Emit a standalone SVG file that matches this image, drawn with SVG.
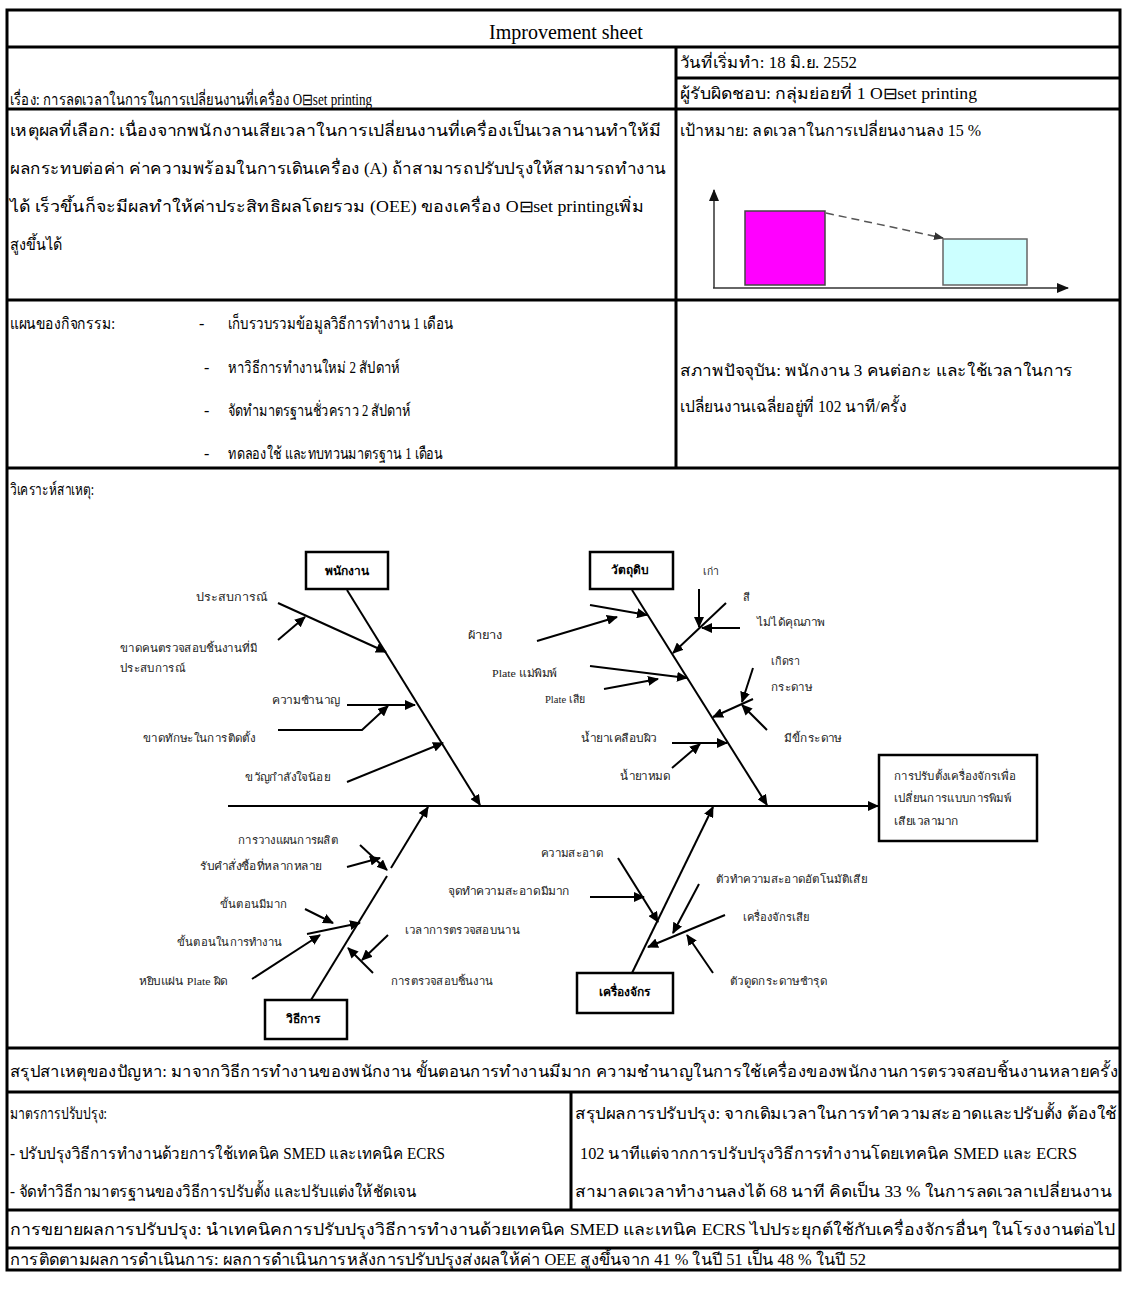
<svg xmlns="http://www.w3.org/2000/svg" width="1123" height="1298" viewBox="0 0 1123 1298">
<defs>
<style>
.t{font-family:"Liberation Serif",serif;font-size:16px;fill:#000;dominant-baseline:central}
.tc{font-family:"Liberation Serif",serif;font-size:20px;fill:#000;dominant-baseline:central;text-anchor:middle}
.f{font-family:"Liberation Sans",sans-serif;font-size:11px;fill:#222;dominant-baseline:central}
.fs{font-family:"Liberation Serif",serif;font-size:11px;fill:#222;dominant-baseline:central}
.hd{font-family:"Liberation Sans",sans-serif;font-size:12px;font-weight:bold;fill:#000;dominant-baseline:central;text-anchor:middle}
.grid{stroke:#000;stroke-width:3;fill:none}
.bone{stroke:#000;stroke-width:2;fill:none;marker-end:url(#ah)}
.plain{stroke:#000;stroke-width:2;fill:none}
.box{fill:#fff;stroke:#000;stroke-width:2.5}
.axis{stroke:#333;stroke-width:1.5;fill:none;marker-end:url(#ah2)}
</style>
<marker id="ah" markerUnits="userSpaceOnUse" markerWidth="11" markerHeight="10" refX="10" refY="5" orient="auto"><path d="M0,0 L11,5 L0,10 z" fill="#000"/></marker>
<marker id="ah2" markerUnits="userSpaceOnUse" markerWidth="12" markerHeight="10" refX="11" refY="5" orient="auto"><path d="M0,0 L12,5 L0,10 z" fill="#111"/></marker>
<marker id="ah3" markerUnits="userSpaceOnUse" markerWidth="10" markerHeight="8" refX="9" refY="4" orient="auto"><path d="M0,0 L10,4 L0,8 z" fill="#333"/></marker>
</defs>
<rect width="1123" height="1298" fill="#fff"/>

<!-- sheet grid -->
<g id="grid">
<rect class="grid" x="7" y="10" width="1113" height="1260"/>
<path class="grid" d="M7 47H1120M7 109H1120M7 300H1120M7 468H1120M7 1048H1120M7 1092H1120M7 1210H1120M7 1248H1120M676 47V468M676 78H1120M571 1092V1210"/>
</g>

<!-- header cells -->
<g id="title"><text class="tc" x="566" y="32">Improvement sheet</text></g>
<g id="subject"><text class="t" x="10" y="99" textLength="362" lengthAdjust="spacingAndGlyphs">เรื่อง: การลดเวลาในการในการเปลี่ยนงานที่เครื่อง O⊟set printing</text></g>
<g id="start-date"><text class="t" x="680" y="62" textLength="177" lengthAdjust="spacingAndGlyphs">วันที่เริ่มทำ: 18 มิ.ย. 2552</text></g>
<g id="owner"><text class="t" x="680" y="93" textLength="297" lengthAdjust="spacingAndGlyphs">ผู้รับผิดชอบ: กลุ่มย่อยที่ 1 O⊟set printing</text></g>

<g id="reason">
<text class="t" x="10" y="130" textLength="651" lengthAdjust="spacingAndGlyphs">เหตุผลที่เลือก: เนื่องจากพนักงานเสียเวลาในการเปลี่ยนงานที่เครื่องเป็นเวลานานทำให้มี</text>
<text class="t" x="10" y="168" textLength="656" lengthAdjust="spacingAndGlyphs">ผลกระทบต่อค่า ค่าความพร้อมในการเดินเครื่อง (A) ถ้าสามารถปรับปรุงให้สามารถทำงาน</text>
<text class="t" x="10" y="206" textLength="634" lengthAdjust="spacingAndGlyphs">ได้ เร็วขึ้นก็จะมีผลทำให้ค่าประสิทธิผลโดยรวม (OEE) ของเครื่อง O⊟set  printingเพิ่ม</text>
<text class="t" x="10" y="244" textLength="52" lengthAdjust="spacingAndGlyphs">สูงขึ้นได้</text>
</g>

<g id="target">
<text class="t" x="680" y="130" textLength="301" lengthAdjust="spacingAndGlyphs">เป้าหมาย: ลดเวลาในการเปลี่ยนงานลง 15 %</text>
<path class="axis" d="M714 288V190"/>
<path class="axis" d="M713 288H1068"/>
<rect x="745" y="211" width="80" height="74" fill="#ff00ff" stroke="#444" stroke-width="1.5"/>
<rect x="943" y="239" width="84" height="46" fill="#ccffff" stroke="#666" stroke-width="1.5"/>
<path d="M826 213L943 238" stroke="#555" stroke-width="1.5" stroke-dasharray="8 5" fill="none" marker-end="url(#ah3)"/>
</g>

<g id="plan">
<text class="t" x="10" y="323" textLength="105" lengthAdjust="spacingAndGlyphs">แผนของกิจกรรม:</text>
<text class="t" x="199" y="323">-</text>
<text class="t" x="228" y="323" textLength="225" lengthAdjust="spacingAndGlyphs">เก็บรวบรวมข้อมูลวิธีการทำงาน 1 เดือน</text>
<text class="t" x="204" y="367">-</text>
<text class="t" x="228" y="367" textLength="172" lengthAdjust="spacingAndGlyphs">หาวิธีการทำงานใหม่ 2 สัปดาห์</text>
<text class="t" x="204" y="410">-</text>
<text class="t" x="228" y="410" textLength="183" lengthAdjust="spacingAndGlyphs">จัดทำมาตรฐานชั่วคราว 2 สัปดาห์</text>
<text class="t" x="204" y="453">-</text>
<text class="t" x="228" y="453" textLength="215" lengthAdjust="spacingAndGlyphs">ทดลองใช้ และทบทวนมาตรฐาน 1 เดือน</text>
</g>

<g id="current">
<text class="t" x="680" y="370" textLength="393" lengthAdjust="spacingAndGlyphs">สภาพปัจจุบัน:  พนักงาน 3 คนต่อกะ และใช้เวลาในการ</text>
<text class="t" x="680" y="406" textLength="227" lengthAdjust="spacingAndGlyphs">เปลี่ยนงานเฉลี่ยอยู่ที่  102 นาที/ครั้ง</text>
</g>

<g id="analysis-label"><text class="t" x="10" y="489" textLength="84" lengthAdjust="spacingAndGlyphs">วิเคราะห์สาเหตุ:</text></g>

<!-- cause and effect connectors -->
<g id="connectors">
<path class="bone" d="M228 806H878"/>
<path class="bone" d="M347 590L480 805"/>
<path class="bone" d="M278 603L386 652"/>
<path class="bone" d="M278 640L305 617"/>
<path class="bone" d="M347 705H415"/>
<path class="bone" d="M278 730H362L388 706"/>
<path class="bone" d="M347 782L443 743"/>
<path class="bone" d="M632 590L767 805"/>
<path class="bone" d="M590 605L647 615"/>
<path class="bone" d="M537 641L617 617"/>
<path class="bone" d="M590 666L687 678"/>
<path class="bone" d="M604 689L658 679"/>
<path class="bone" d="M672 743H727"/>
<path class="bone" d="M672 768L700 744"/>
<path class="bone" d="M699 589V627"/>
<path class="bone" d="M726 603L673 653"/>
<path class="bone" d="M740 628H702"/>
<path class="bone" d="M753 668L742 702"/>
<path class="bone" d="M753 699L713 717"/>
<path class="bone" d="M767 730L742 705"/>
<path class="plain" d="M311 1000L387 876"/>
<path class="bone" d="M391 868L428 807"/>
<path class="bone" d="M360 845L387 870"/>
<path class="bone" d="M347 867L380 858"/>
<path class="bone" d="M305 909L333 923"/>
<path class="bone" d="M307 934L360 923"/>
<path class="bone" d="M252 979L320 935"/>
<path class="bone" d="M388 935L362 960"/>
<path class="bone" d="M373 973L348 948"/>
<path class="bone" d="M632 973L713 807"/>
<path class="bone" d="M618 858L658 922"/>
<path class="bone" d="M590 897H644"/>
<path class="bone" d="M699 884L673 933"/>
<path class="bone" d="M725 915L648 947"/>
<path class="bone" d="M713 973L687 935"/>
</g>

<g id="staff">
<rect class="box" x="306" y="552" width="82" height="37"/>
<text class="hd" x="347" y="571">พนักงาน</text>
<text class="f" x="196" y="597" textLength="71" lengthAdjust="spacingAndGlyphs">ประสบการณ์</text>
<text class="f" x="120" y="648" textLength="137" lengthAdjust="spacingAndGlyphs">ขาดคนตรวจสอบชิ้นงานที่มี</text>
<text class="f" x="120" y="668" textLength="65" lengthAdjust="spacingAndGlyphs">ประสบการณ์</text>
<text class="f" x="272" y="700" textLength="68" lengthAdjust="spacingAndGlyphs">ความชำนาญ</text>
<text class="f" x="143" y="738" textLength="112" lengthAdjust="spacingAndGlyphs">ขาดทักษะในการติดตั้ง</text>
<text class="f" x="245" y="777" textLength="85" lengthAdjust="spacingAndGlyphs">ขวัญกำลังใจน้อย</text>
</g>

<g id="material">
<rect class="box" x="590" y="552" width="83" height="37"/>
<text class="hd" x="630" y="570">วัตถุดิบ</text>
<text class="f" x="468" y="635" textLength="34" lengthAdjust="spacingAndGlyphs">ผ้ายาง</text>
<text class="fs" x="492" y="673" textLength="65" lengthAdjust="spacingAndGlyphs">Plate แม่พิมพ์</text>
<text class="fs" x="545" y="699" textLength="40" lengthAdjust="spacingAndGlyphs">Plate เสีย</text>
<text class="f" x="581" y="738" textLength="76" lengthAdjust="spacingAndGlyphs">น้ำยาเคลือบผิว</text>
<text class="f" x="620" y="776" textLength="50" lengthAdjust="spacingAndGlyphs">น้ำยาหมด</text>
<text class="f" x="703" y="571" textLength="16" lengthAdjust="spacingAndGlyphs">เก่า</text>
<text class="f" x="743" y="597">สี</text>
<text class="f" x="757" y="622" textLength="68" lengthAdjust="spacingAndGlyphs">ไม่ได้คุณภาพ</text>
<text class="f" x="771" y="661" textLength="29" lengthAdjust="spacingAndGlyphs">เกิดรา</text>
<text class="f" x="771" y="687" textLength="41" lengthAdjust="spacingAndGlyphs">กระดาษ</text>
<text class="f" x="784" y="738" textLength="58" lengthAdjust="spacingAndGlyphs">มีขี้กระดาษ</text>
</g>

<g id="method">
<rect class="box" x="265" y="1000" width="82" height="39"/>
<text class="hd" x="303" y="1019">วิธีการ</text>
<text class="f" x="238" y="840" textLength="100" lengthAdjust="spacingAndGlyphs">การวางแผนการผลิต</text>
<text class="f" x="200" y="866" textLength="122" lengthAdjust="spacingAndGlyphs">รับคำสั่งซื้อที่หลากหลาย</text>
<text class="f" x="220" y="904" textLength="67" lengthAdjust="spacingAndGlyphs">ขั้นตอนมีมาก</text>
<text class="f" x="177" y="942" textLength="105" lengthAdjust="spacingAndGlyphs">ขั้นตอนในการทำงาน</text>
<text class="f" x="139" y="981" textLength="89" lengthAdjust="spacingAndGlyphs">หยิบแผ่น <tspan font-family="Liberation Serif, serif">Plate</tspan> ผิด</text>
<text class="f" x="405" y="930" textLength="115" lengthAdjust="spacingAndGlyphs">เวลาการตรวจสอบนาน</text>
<text class="f" x="391" y="981" textLength="102" lengthAdjust="spacingAndGlyphs">การตรวจสอบชิ้นงาน</text>
</g>

<g id="machine">
<rect class="box" x="577" y="973" width="96" height="40"/>
<text class="hd" x="624" y="992">เครื่องจักร</text>
<text class="f" x="541" y="853" textLength="62" lengthAdjust="spacingAndGlyphs">ความสะอาด</text>
<text class="f" x="448" y="891" textLength="122" lengthAdjust="spacingAndGlyphs">จุดทำความสะอาดมีมาก</text>
<text class="f" x="716" y="879" textLength="151" lengthAdjust="spacingAndGlyphs">ตัวทำความสะอาดอัตโนมัติเสีย</text>
<text class="f" x="743" y="917" textLength="66" lengthAdjust="spacingAndGlyphs">เครื่องจักรเสีย</text>
<text class="f" x="730" y="981" textLength="97" lengthAdjust="spacingAndGlyphs">ตัวดูดกระดาษชำรุด</text>
</g>

<g id="effect">
<rect class="box" x="879" y="755" width="158" height="86"/>
<text class="f" x="894" y="776" textLength="122" lengthAdjust="spacingAndGlyphs">การปรับตั้งเครื่องจักรเพื่อ</text>
<text class="f" x="894" y="798" textLength="117" lengthAdjust="spacingAndGlyphs">เปลี่ยนการแบบการพิมพ์</text>
<text class="f" x="894" y="821" textLength="65" lengthAdjust="spacingAndGlyphs">เสียเวลามาก</text>
</g>

<g id="summary">
<text class="t" x="10" y="1071" textLength="1108" lengthAdjust="spacingAndGlyphs">สรุปสาเหตุของปัญหา:  มาจากวิธีการทำงานของพนักงาน ขั้นตอนการทำงานมีมาก ความชำนาญในการใช้เครื่องของพนักงานการตรวจสอบชิ้นงานหลายครั้ง</text>
</g>

<g id="measures">
<text class="t" x="10" y="1113" textLength="97" lengthAdjust="spacingAndGlyphs">มาตรการปรับปรุง:</text>
<text class="t" x="10" y="1153" textLength="435" lengthAdjust="spacingAndGlyphs">-  ปรับปรุงวิธีการทำงานด้วยการใช้เทคนิค SMED และเทคนิค ECRS</text>
<text class="t" x="10" y="1191" textLength="406" lengthAdjust="spacingAndGlyphs">- จัดทำวิธีกามาตรฐานของวิธีการปรับตั้ง   และปรับแต่งให้ชัดเจน</text>
</g>

<g id="results">
<text class="t" x="575" y="1113" textLength="542" lengthAdjust="spacingAndGlyphs">สรุปผลการปรับปรุง: จากเดิมเวลาในการทำความสะอาดและปรับตั้ง ต้องใช้</text>
<text class="t" x="580" y="1153" textLength="497" lengthAdjust="spacingAndGlyphs">102 นาทีแต่จากการปรับปรุงวิธีการทำงานโดยเทคนิค SMED และ ECRS</text>
<text class="t" x="575" y="1191" textLength="537" lengthAdjust="spacingAndGlyphs">สามาลดเวลาทำงานลงได้ 68 นาที คิดเป็น 33 % ในการลดเวลาเปลี่ยนงาน</text>
</g>

<g id="rollout">
<text class="t" x="10" y="1229" textLength="1105" lengthAdjust="spacingAndGlyphs">การขยายผลการปรับปรุง: นำเทคนิคการปรับปรุงวิธีการทำงานด้วยเทคนิค SMED และเทนิค ECRS ไปประยุกต์ใช้กับเครื่องจักรอื่นๆ ในโรงงานต่อไป</text>
</g>

<g id="follow-up">
<text class="t" x="10" y="1259" textLength="856" lengthAdjust="spacingAndGlyphs">การติดตามผลการดำเนินการ: ผลการดำเนินการหลังการปรับปรุงส่งผลให้ค่า OEE สูงขึ้นจาก 41 % ในปี 51 เป็น 48 % ในปี 52</text>
</g>
</svg>
